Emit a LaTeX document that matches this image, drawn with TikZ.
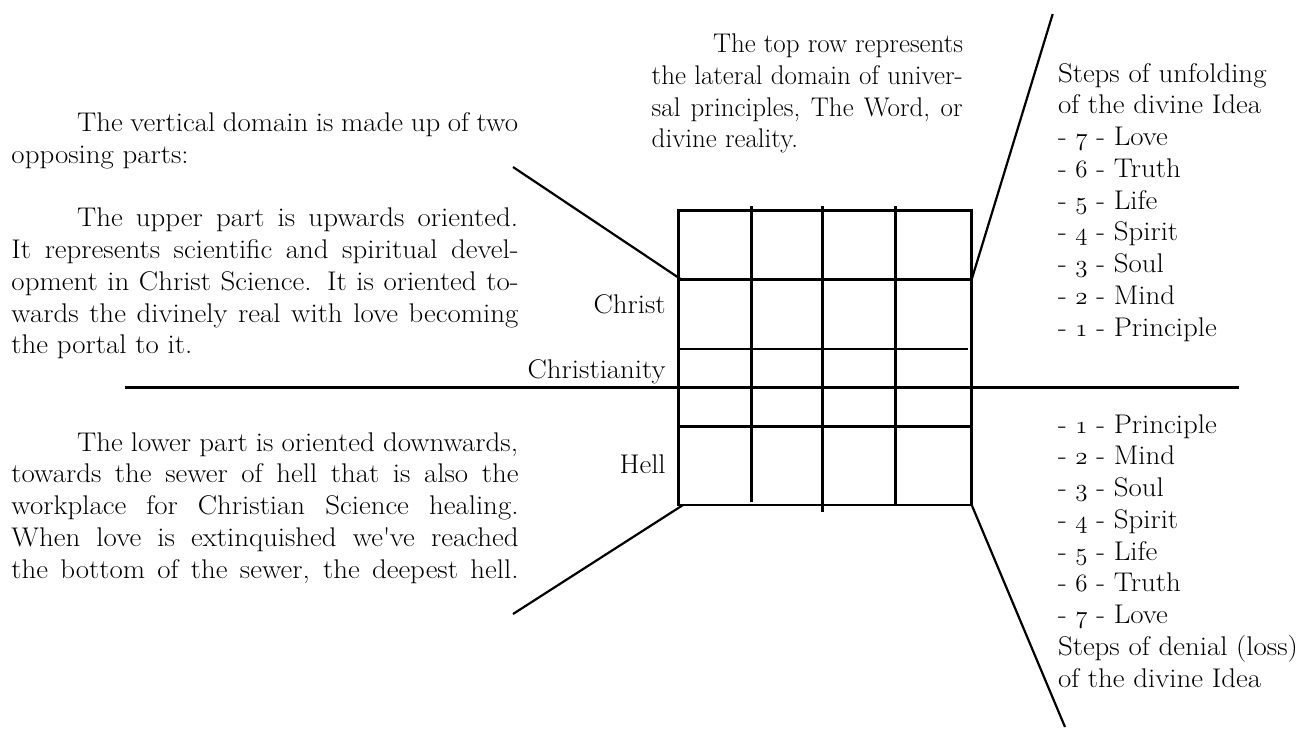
\documentclass[tikz,border=0pt]{standalone}
\usepackage{fontspec}
\setmainfont{Latin Modern Roman}[FakeStretch=1.07]
\newfontfamily\plainlm{Latin Modern Roman}
\tikzset{
  txt/.style={anchor=base west, inner sep=0pt, outer sep=0pt, font=\fontsize{27}{31.75}\selectfont},
  ptxt/.style={txt, font=\fontsize{27}{31.75}\selectfont\plainlm},
  rtxt/.style={txt, anchor=base east},
  gridln/.style={line width=2.5pt, line cap=rect},
  leader/.style={line width=2.2pt},
}
\newcommand\jline[2]{\makebox[#1pt][s]{\spaceskip=0.3em plus 1em minus 0.04em #2}}
\newcommand\osn[1]{{\usefont{OML}{cmm}{m}{it}#1}}
\begin{document}
\begin{tikzpicture}[x=1pt,y=-1pt]
\useasboundingbox (0,0) rectangle (1308,729);
% grid corners
\coordinate (gtl) at (678.3,210.7);
\coordinate (gbr) at (971.7,505);
\coordinate (gr1) at (971.7,279.3);
\coordinate (gl1) at (681,279.3);
\coordinate (gbl) at (683,505);
% grid
\draw[gridln] (gtl) rectangle (gbr);
\draw[gridln] (678.3,279.3) -- (971.7,279.3);
\draw[gridln] (678.3,349) -- (966.7,349);
\draw[gridln] (678.3,426.7) -- (971.7,426.7);
\draw[gridln] (751.7,207.3) -- (751.7,500.7);
\draw[gridln] (822.3,207.3) -- (822.3,510.7);
\draw[gridln] (895.7,207.3) -- (895.7,505);
% long horizontal axis
\coordinate (axl) at (126,387.3);
\coordinate (axr) at (1237.7,387.3);
\draw[gridln] (axl) -- (axr);
% leader lines
\coordinate (ul) at (513,167);
\coordinate (ur) at (1052.7,14);
\coordinate (ll) at (513,614);
\coordinate (lr) at (1065,727);
\draw[leader] (ul) -- (gl1);
\draw[leader] (gr1) -- (ur);
\draw[leader] (ll) -- (gbl);
\draw[leader] (gbr) -- (lr);

% upper left paragraph
\node[txt] (a1) at (77,131.7) {\jline{441}{The vertical domain is made up of two}};
\node[txt] (a2) at (11.5,163.3) {opposing parts:};
\node[txt] (a3) at (77,226.8) {\jline{441}{The upper part is upwards oriented.}};
\node[txt] (a4) at (11.5,258.5) {\jline{507}{It represents scientific and spiritual devel-}};
\node[txt] (a5) at (11.5,290.3) {\jline{507}{opment in Christ Science. It is oriented to-}};
\node[txt] (a6) at (11.5,322) {\jline{507}{wards the divinely real with love becoming}};
\node[txt] (a7) at (11.5,353.8) {the portal to it.};

% lower left paragraph
\node[txt] (b1) at (77,451) {\jline{441}{The lower part is oriented downwards,}};
\node[txt] (b2) at (11.5,482.7) {\jline{507}{towards the sewer of hell that is also the}};
\node[txt] (b3) at (11.5,514.5) {\jline{507}{workplace for Christian Science healing.}};
\node[txt] (b4) at (11.5,546.2) {\jline{507}{When love is extinquished we\textquotesingle ve reached}};
\node[txt] (b5) at (11.5,578) {\jline{507}{the bottom of the sewer, the deepest hell.}};

% top middle paragraph
\node[ptxt] (c1) at (713,52.5) {\jline{250}{The top row represents}};
\node[ptxt] (c2) at (651.7,84.2) {\jline{311}{the lateral domain of univer-}};
\node[ptxt] (c3) at (651.7,116) {\jline{311}{sal principles, The Word, or}};
\node[ptxt] (c4) at (651.7,147.7) {divine reality.};

% row labels
\node[rtxt] (christ) at (665.7,313) {Christ};
\node[rtxt] (xty) at (665.7,378) {Christianity};
\node[rtxt] (hell) at (665.7,473.3) {Hell};

% upper right list
\node[txt] (d1) at (1058,82) {Steps of unfolding};
\node[txt] (d2) at (1058,113.75) {of the divine Idea};
\node[txt] (d3) at (1058,145.5) {- \osn{7} - Love};
\node[txt] (d4) at (1058,177.25) {- \osn{6} - Truth};
\node[txt] (d5) at (1058,209) {- \osn{5} - Life};
\node[txt] (d6) at (1058,240.75) {- \osn{4} - Spirit};
\node[txt] (d7) at (1058,272.5) {- \osn{3} - Soul};
\node[txt] (d8) at (1058,304.25) {- \osn{2} - Mind};
\node[txt] (d9) at (1058,336) {- \osn{1} - Principle};

% lower right list
\node[txt] (e1) at (1058,433) {- \osn{1} - Principle};
\node[txt] (e2) at (1058,464.75) {- \osn{2} - Mind};
\node[txt] (e3) at (1058,496.5) {- \osn{3} - Soul};
\node[txt] (e4) at (1058,528.25) {- \osn{4} - Spirit};
\node[txt] (e5) at (1058,560) {- \osn{5} - Life};
\node[txt] (e6) at (1058,591.75) {- \osn{6} - Truth};
\node[txt] (e7) at (1058,623.5) {- \osn{7} - Love};
\node[txt] (e8) at (1058,655.25) {Steps of denial (loss)};
\node[txt] (e9) at (1058,687) {of the divine Idea};
\end{tikzpicture}
\end{document}
